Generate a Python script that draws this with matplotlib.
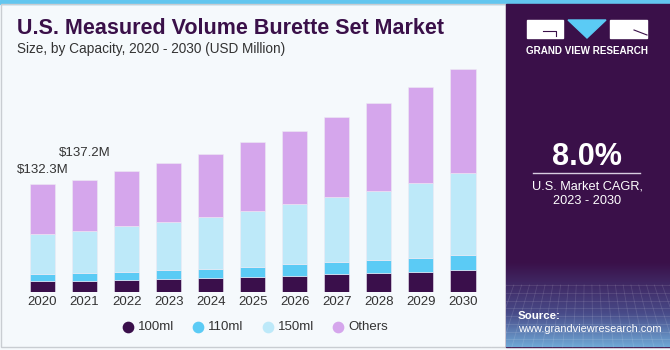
import numpy as np
import matplotlib.pyplot as plt
from matplotlib.patches import Rectangle, Polygon

years = ['2020', '2021', '2022', '2023', '2024', '2025', '2026', '2027', '2028', '2029', '2030']
ml100 = [13.1, 13.4, 14.7, 15.9, 17.1, 18.7, 19.9, 21.6, 23.6, 24.8, 27.2]
ml110 = [8.5, 9.8, 9.8, 11.0, 11.0, 12.2, 13.9, 15.0, 15.1, 17.1, 18.3]
ml150 = [49.7, 51.3, 55.8, 58.6, 63.5, 68.4, 73.7, 79.4, 84.7, 91.6, 99.8]
others = [61.0, 62.7, 68.0, 71.7, 77.4, 84.3, 89.6, 97.7, 107.5, 117.3, 126.7]
series = {'100ml': ml100, '110ml': ml110, '150ml': ml150, 'Others': others}
colors = ['#3a0f4b', '#5bcbf5', '#bde9f9', '#d5a6ec']
callouts = {0: '$132.3M', 1: '$137.2M'}

W, H = 670, 350
BG = '#f5f9fc'
PURPLE = '#3a1049'
plt.rcParams['font.family'] = ['Liberation Sans', 'DejaVu Sans']

fig = plt.figure(figsize=(W / 100, H / 100), dpi=100)
fig.patch.set_facecolor(BG)


def fx(x):
    return x / W


def fy(y):
    return 1 - y / H


# background pieces
bg = fig.add_axes([0, 0, 1, 1])
bg.set_xlim(0, W)
bg.set_ylim(H, 0)
bg.axis('off')
bg.add_patch(Rectangle((0, 0), W, 4, color='#62c6ef'))
bg.add_patch(Rectangle((0.5, 4), 505, 343, fill=False, edgecolor='#c9cdd2', lw=1))
bg.add_patch(Rectangle((506, 4), 164, 343, color=PURPLE))

# gradient at bottom of panel
stops = np.array([[0x3a, 0x10, 0x49], [0x48, 0x4a, 0x88], [0x6f, 0xa8, 0xd6]]) / 255
rgb = np.zeros((100, 1, 3))
for i, g in enumerate(np.linspace(0, 1, 100)):
    if g < 0.6:
        t = g / 0.6
        rgb[i, 0] = stops[0] * (1 - t) + stops[1] * t
    else:
        t = (g - 0.6) / 0.4
        rgb[i, 0] = stops[1] * (1 - t) + stops[2] * t
bg.imshow(rgb, extent=(506, 670, 347, 262), aspect='auto', zorder=1)
for yy in np.linspace(285, 347, 9):
    bg.plot([506, 670], [yy, yy], color='white', alpha=0.12, lw=0.6, zorder=2)
for xx in np.linspace(506, 670, 22):
    bg.plot([xx, xx + (xx - 588) * 0.3], [285, 347], color='white', alpha=0.12, lw=0.6, zorder=2)

# logo
bg.add_patch(Rectangle((527, 20), 36, 18, color='white', zorder=3))
bg.plot([543, 556, 556], [31, 31, 36], color=PURPLE, lw=0.8, zorder=4)
bg.add_patch(Polygon([(568, 20), (606, 20), (587, 38)], color='#5bcbf5', zorder=3))
bg.add_patch(Rectangle((610, 20), 37, 18, color='white', zorder=3))
bg.plot([634, 647], [30, 35], color=PURPLE, lw=0.8, zorder=4)
bg.plot([533, 640], [173, 173], color='#d8cde0', lw=1)

fig.text(fx(587.5), fy(50.5), 'GRAND VIEW RESEARCH', color='white', fontsize=7.1,
         fontweight='bold', ha='center', va='center')
fig.text(fx(587), fy(157), '8.0%', color='white', fontsize=22, fontweight='bold',
         ha='center', va='center')
fig.text(fx(587), fy(186), 'U.S. Market CAGR,', color='white', fontsize=9.2,
         ha='center', va='center')
fig.text(fx(587), fy(201), '2023 - 2030', color='white', fontsize=9.2,
         ha='center', va='center')
fig.text(fx(518), fy(316), 'Source:', color='white', fontsize=8.2, fontweight='bold',
         ha='left', va='center')
fig.text(fx(518), fy(329), 'www.grandviewresearch.com', color='white', fontsize=7.9,
         ha='left', va='center')

fig.text(fx(17), fy(29), 'U.S. Measured Volume Burette Set Market', color=PURPLE,
         fontsize=15.5, fontweight='bold', ha='left', va='center')
fig.text(fx(17), fy(49), 'Size, by Capacity, 2020 - 2030 (USD Million)', color='#333333',
         fontsize=9.8, ha='left', va='center')

# bar chart
ax = fig.add_axes([fx(10), 58 / H, 490 / W, 232 / H])
ax.set_facecolor('none')
x = np.arange(len(years))
bottom = np.zeros(len(years))
for (name, vals), c in zip(series.items(), colors):
    ax.bar(x, vals, 0.595, bottom=bottom, color=c, label=name, edgecolor='#eeeaf4', lw=0.4)
    bottom += np.array(vals)
ax.set_xlim(-0.773, 10.88)
ax.set_ylim(0, 283.4)
for i, lab in callouts.items():
    ax.text(x[i] - 0.6, bottom[i] + (17 if i == 0 else 33), lab, fontsize=9.5,
            color='#333333', ha='left', va='center')
ax.set_xticks(x, years)
ax.tick_params(axis='x', length=0, labelsize=9.5, labelcolor='#333333', pad=3)
ax.set_yticks([])
for s in ax.spines.values():
    s.set_visible(False)

# legend
for name, c, xp in zip(series, colors, [128, 198, 268, 338]):
    bg.scatter([xp], [327], s=55, color=c, zorder=5)
    fig.text(fx(xp + 10), fy(327), name, fontsize=9.5, color='#333333',
             ha='left', va='center')

fig.savefig('out.png', dpi=100, facecolor=BG)
